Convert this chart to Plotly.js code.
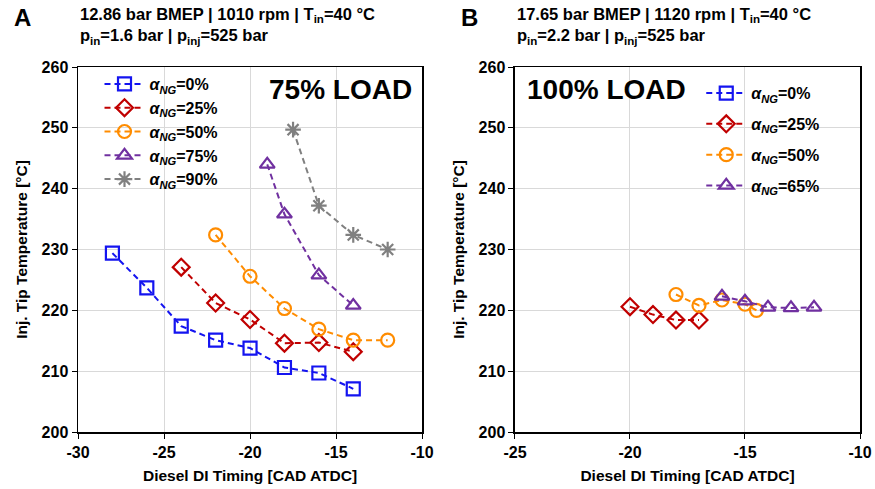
<!DOCTYPE html>
<html>
<head>
<meta charset="utf-8">
<script src="https://cdn.plot.ly/plotly-3.0.1.min.js"></script>
<style>html,body{margin:0;padding:0;background:#fff}#chart{width:875px;height:489px}</style>
</head>
<body>
<div id="chart"></div>
<script>
// Panel A (75% load)
const a_ng0_x = [-28, -26, -24, -22, -20, -18, -16, -14];
const a_ng0_y = [229.4, 223.7, 217.4, 215.1, 213.8, 210.6, 209.7, 207.1];
const a_ng25_x = [-24, -22, -20, -18, -16, -14];
const a_ng25_y = [227.1, 221.2, 218.5, 214.6, 214.7, 213.2];
const a_ng50_x = [-22, -20, -18, -16, -14, -12];
const a_ng50_y = [232.4, 225.6, 220.3, 216.9, 215.1, 215.1];
const a_ng75_x = [-19, -18, -16, -14];
const a_ng75_y = [244.0, 235.8, 225.8, 220.8];
const a_ng90_x = [-17.5, -16, -14, -12];
const a_ng90_y = [249.7, 237.2, 232.4, 230.0];
// Panel B (100% load) - alpha_NG=0% appears only in the legend
const b_ng0_x = [null];
const b_ng0_y = [null];
const b_ng25_x = [-20, -19, -18, -17];
const b_ng25_y = [220.6, 219.3, 218.4, 218.4];
const b_ng50_x = [-18, -17, -16, -15, -14.5];
const b_ng50_y = [222.6, 220.8, 221.7, 221.0, 220.0];
const b_ng65_x = [-16, -15, -14, -13, -12];
const b_ng65_y = [222.3, 221.5, 220.5, 220.4, 220.5];

const labelsA = ['0%', '25%', '50%', '75%', '90%'];
const labelsB = ['0%', '25%', '50%', '65%'];

// tick labels
const xTicksA = [-30, -25, -20, -15, -10];
const xTextA = ['-30', '-25', '-20', '-15', '-10'];
const xTicksB = [-25, -20, -15, -10];
const xTextB = ['-25', '-20', '-15', '-10'];
const yTicks = [200, 210, 220, 230, 240, 250, 260];
const yText = ['200', '210', '220', '230', '240', '250', '260'];

const colors = ['#1414F0', '#C00000', '#FF8C00', '#7030A0', '#808080'];
const symbols = ['square-open', 'diamond-open', 'circle-open', 'triangle-up-open', 'asterisk-open'];

function tr(x, y, i, lab, xa, ya, leg, grp) {
  return {
    x: x, y: y, xaxis: xa, yaxis: ya, legend: leg, legendgroup: grp,
    type: 'scatter', mode: 'lines+markers',
    name: '<i>α<sub>NG</sub></i>=' + lab,
    line: {color: colors[i], dash: '6px,4px', width: 2},
    marker: {symbol: symbols[i], size: 13, color: colors[i], line: {color: colors[i], width: 2.2}}
  };
}

const data = [
  tr(a_ng0_x, a_ng0_y, 0, labelsA[0], 'x', 'y', 'legend', 'a'),
  tr(a_ng25_x, a_ng25_y, 1, labelsA[1], 'x', 'y', 'legend', 'a'),
  tr(a_ng50_x, a_ng50_y, 2, labelsA[2], 'x', 'y', 'legend', 'a'),
  tr(a_ng75_x, a_ng75_y, 3, labelsA[3], 'x', 'y', 'legend', 'a'),
  tr(a_ng90_x, a_ng90_y, 4, labelsA[4], 'x', 'y', 'legend', 'a'),
  tr(b_ng0_x, b_ng0_y, 0, labelsB[0], 'x2', 'y2', 'legend2', 'b0'),
  tr(b_ng25_x, b_ng25_y, 1, labelsB[1], 'x2', 'y2', 'legend2', 'b1'),
  tr(b_ng50_x, b_ng50_y, 2, labelsB[2], 'x2', 'y2', 'legend2', 'b2'),
  tr(b_ng65_x, b_ng65_y, 3, labelsB[3], 'x2', 'y2', 'legend2', 'b3')
];

const F = 'Liberation Sans, Arial, sans-serif';
const tickFont = {family: F, size: 16, color: '#000', weight: 'bold'};
const titleFont = {family: F, size: 15.5, color: '#000', weight: 'bold'};

function xax(dom, range, tv, tt, anchor) {
  return {
    domain: dom, range: range, tickmode: 'array', tickvals: tv, ticktext: tt, anchor: anchor,
    showgrid: true, gridcolor: '#D9D9D9', gridwidth: 1,
    showline: true, linecolor: '#000', linewidth: 1.5, mirror: true,
    ticks: 'outside', ticklen: 5, tickcolor: '#000',
    tickfont: tickFont, zeroline: false,
    title: {text: 'Diesel DI Timing [CAD ATDC]', font: titleFont, standoff: 10}
  };
}
function yax(anchor) {
  return {
    domain: [0, 1], range: [200, 260], tickmode: 'array', tickvals: yTicks, ticktext: yText, anchor: anchor,
    showgrid: true, gridcolor: '#D9D9D9', gridwidth: 1,
    showline: true, linecolor: '#000', linewidth: 1.5, mirror: true,
    ticks: 'outside', ticklen: 5, tickcolor: '#000',
    tickfont: tickFont, zeroline: false,
    title: {text: 'Inj. Tip Temperature [°C]', font: titleFont, standoff: 10}
  };
}

const legFont = {family: F, size: 16, color: '#000', weight: 'bold'};

const layout = {
  width: 875, height: 489,
  margin: {l: 78, r: 15, t: 67, b: 57},
  paper_bgcolor: '#fff', plot_bgcolor: '#fff',
  font: {family: F},
  xaxis: xax([0, 0.44], [-30, -10], xTicksA, xTextA, 'y'),
  yaxis: yax('x'),
  xaxis2: xax([0.5588, 1], [-25, -10], xTicksB, xTextB, 'y2'),
  yaxis2: yax('x2'),
  legend: {x: 0.0275, y: 1.0, xref: 'paper', yref: 'paper', xanchor: 'left', yanchor: 'top',
           bgcolor: 'rgba(255,255,255,0)', font: legFont, tracegroupgap: 0, itemwidth: 40},
  legend2: {x: 0.797, y: 0.975, xref: 'paper', yref: 'paper', xanchor: 'left', yanchor: 'top',
            bgcolor: 'rgba(255,255,255,0)', font: legFont, tracegroupgap: 7, itemwidth: 40},
  annotations: [
    {text: '<b>A</b>', xref: 'paper', yref: 'paper', x: -0.085, y: 1.135, xanchor: 'left', yanchor: 'middle',
     showarrow: false, font: {family: F, size: 24, color: '#000'}},
    {text: '<b>B</b>', xref: 'paper', yref: 'paper', x: 0.487, y: 1.135, xanchor: 'left', yanchor: 'middle',
     showarrow: false, font: {family: F, size: 24, color: '#000'}},
    {text: '<b>12.86 bar BMEP | 1010 rpm | T<sub>in</sub>=40 °C<br>p<sub>in</sub>=1.6 bar | p<sub>inj</sub>=525 bar</b>',
     xref: 'paper', yref: 'paper', x: 0.0, y: 1.175, xanchor: 'left', yanchor: 'top', align: 'left',
     showarrow: false, font: {family: F, size: 16.5, color: '#000'}},
    {text: '<b>17.65 bar BMEP | 1120 rpm | T<sub>in</sub>=40 °C<br>p<sub>in</sub>=2.2 bar | p<sub>inj</sub>=525 bar</b>',
     xref: 'paper', yref: 'paper', x: 0.5588, y: 1.175, xanchor: 'left', yanchor: 'top', align: 'left',
     showarrow: false, font: {family: F, size: 16.5, color: '#000'}},
    {text: '<b>75% LOAD</b>', xref: 'paper', yref: 'paper', x: 0.43, y: 0.937, xanchor: 'right', yanchor: 'middle',
     showarrow: false, font: {family: F, size: 28, color: '#000'}},
    {text: '<b>100% LOAD</b>', xref: 'paper', yref: 'paper', x: 0.572, y: 0.937, xanchor: 'left', yanchor: 'middle',
     showarrow: false, font: {family: F, size: 28, color: '#000'}}
  ]
};

Plotly.newPlot('chart', data, layout, {displayModeBar: false, staticPlot: true});
</script>
</body>
</html>
